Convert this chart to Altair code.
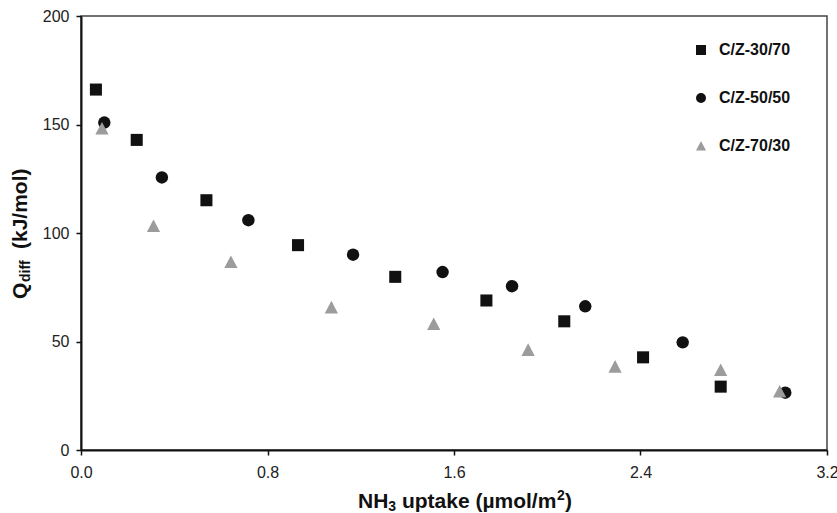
import altair as alt
import pandas as pd

FONT = "Liberation Sans"

series_names = ["C/Z-30/70", "C/Z-50/50", "C/Z-70/30"]
# upward triangle drawn as a path inside the unit box
TRIANGLE = "M0,-1L1,0.9L-1,0.9Z"
series_shapes = ["square", "circle", TRIANGLE]
series_colors = ["#111111", "#111111", "#9c9c9c"]
series_sizes = [145, 155, 175]

# NH3 uptake (µmol/m²) and differential heat Q_diff (kJ/mol) per catalyst
uptake_30_70 = [0.064, 0.239, 0.538, 0.931, 1.348, 1.739, 2.073, 2.411, 2.744]
qdiff_30_70 = [166.1, 142.9, 115.1, 94.4, 79.8, 68.9, 59.3, 42.7, 29.2]

uptake_50_50 = [0.100, 0.347, 0.718, 1.167, 1.551, 1.849, 2.163, 2.581, 3.021]
qdiff_50_50 = [150.9, 125.6, 105.9, 90.0, 82.0, 75.5, 66.2, 49.6, 26.4]

uptake_70_30 = [0.090, 0.311, 0.643, 1.074, 1.513, 1.918, 2.291, 2.744, 2.997]
qdiff_70_30 = [148.1, 103.2, 86.6, 65.7, 58.0, 46.1, 38.4, 36.8, 26.9]

x_ticks = [0.0, 0.8, 1.6, 2.4, 3.2]
y_ticks = [0, 50, 100, 150, 200]

series_data = [
    (series_names[0], uptake_30_70, qdiff_30_70),
    (series_names[1], uptake_50_50, qdiff_50_50),
    (series_names[2], uptake_70_30, qdiff_70_30),
]

W, H = 746, 434

legend_opts = dict(
    title=None, orient="none", legendX=612, legendY=26,
    labelFont=FONT, labelFontSize=16, labelFontWeight="bold",
    labelColor="#111111", symbolSize=100, symbolStrokeWidth=0,
    rowPadding=32, labelOffset=10, padding=0,
)

x_enc = alt.X(
    "uptake:Q",
    scale=alt.Scale(domain=[0, 3.2], nice=False, zero=False),
    axis=alt.Axis(values=x_ticks, format=".1f", title=None,
                  labelPadding=9, labelFlush=False),
)
y_enc = alt.Y(
    "qdiff:Q",
    scale=alt.Scale(domain=[0, 200], nice=False),
    axis=alt.Axis(values=y_ticks, title=None, labelPadding=7),
)
shape_enc = alt.Shape(
    "series:N",
    scale=alt.Scale(domain=series_names, range=series_shapes),
    legend=alt.Legend(**legend_opts),
)
color_enc = alt.Color(
    "series:N",
    scale=alt.Scale(domain=series_names, range=series_colors),
    legend=alt.Legend(**legend_opts),
)

# one layer per catalyst so each keeps its own marker size (drawn in order)
point_layers = []
for (name, xs, ys), sz in zip(series_data, series_sizes):
    d = pd.DataFrame({"series": name, "uptake": xs, "qdiff": ys})
    point_layers.append(
        alt.Chart(d).mark_point(
            filled=True, opacity=1, strokeWidth=0, size=sz
        ).encode(x=x_enc, y=y_enc, shape=shape_enc, color=color_enc)
    )


def label(text, x, y, size=21, angle=0):
    kw = dict(text=text, font=FONT, fontSize=size, fontWeight="bold",
              color="#111111", align="left", baseline="alphabetic")
    if angle:
        kw["angle"] = angle
    return alt.Chart(pd.DataFrame({"k": [0]})).mark_text(**kw).encode(
        x=alt.value(x), y=alt.value(y)
    )


# x-axis title: NH3 uptake (µmol/m2) with sub/superscript pieces
x_title = [
    label("NH", 277, 492),
    label("3", 307.3, 495, size=14),
    label("uptake (µmol/m", 320.9, 492),
    label("2", 476.1, 484, size=14),
    label(")", 483.9, 492),
]

# y-axis title: Q_diff (kJ/mol), rotated
y_title = [
    label("Q", -54, 283, angle=270),
    label("diff", -51, 266, size=14, angle=270),
    label("(kJ/mol)", -54, 233, angle=270),
]

chart = alt.layer(*point_layers, *x_title, *y_title).properties(
    width=W, height=H,
    autosize=alt.AutoSizeParams(type="none"),
    padding={"left": 81, "top": 16, "right": 10, "bottom": 63},
    background="white",
).configure_view(
    stroke="#444444", strokeWidth=1.5
).configure_axis(
    grid=False,
    domainColor="#111111", domainWidth=2,
    tickColor="#111111", tickWidth=1.5, tickSize=5,
    labelFont=FONT, labelFontSize=16, labelColor="#222222",
)

chart.save("out.html", embed_options={"renderer": "svg", "actions": False})
